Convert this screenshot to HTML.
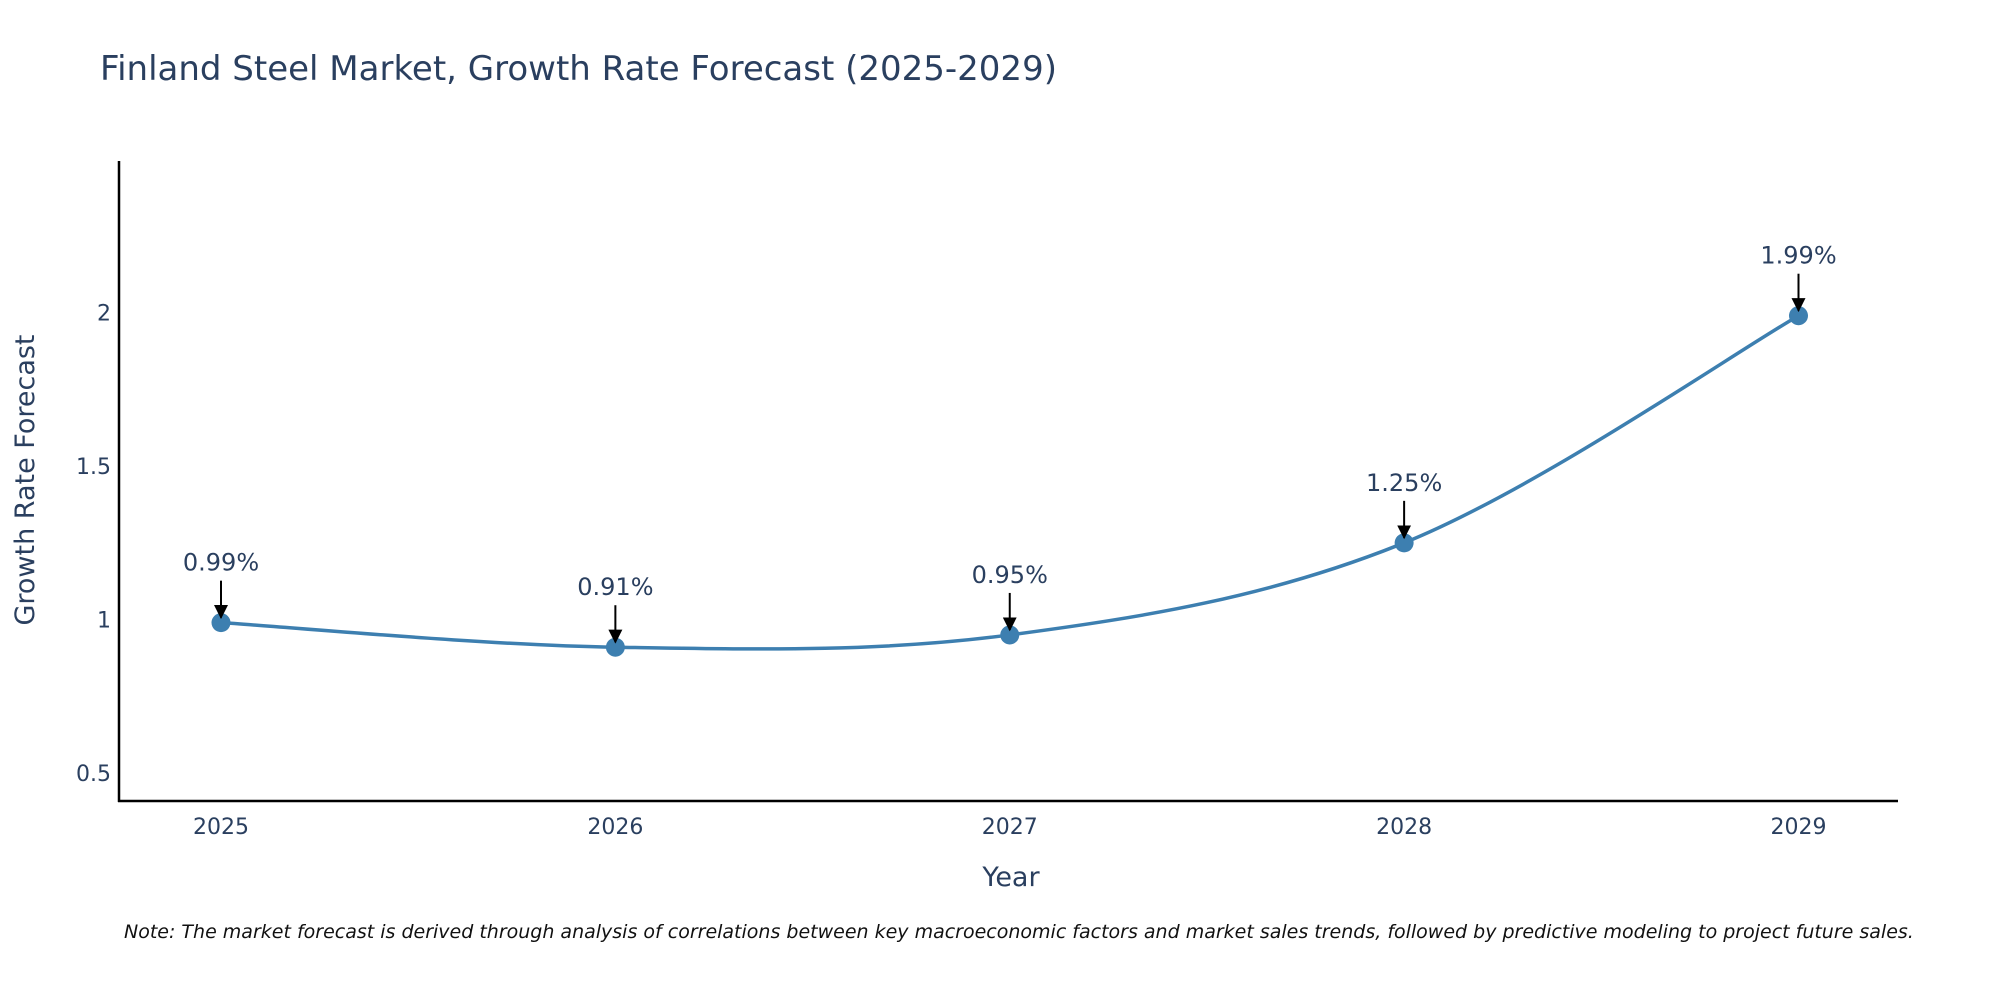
<!DOCTYPE html>
<html><head><meta charset="utf-8"><style>
body{margin:0;background:#fff;}
svg{display:block;font-family:"DejaVu Sans","Liberation Sans",sans-serif;}
</style></head><body>
<svg id="chart" width="2000" height="1000">
<defs><marker id="arr" viewBox="0 0 10 10" refX="9" refY="5" markerWidth="7" markerHeight="7" markerUnits="strokeWidth" orient="auto"><path d="M0,0 L10,5 L0,10 z" fill="#000"/></marker></defs>
<text x="100" y="80" font-size="34" fill="#2a3f5f">Finland Steel Market, Growth Rate Forecast (2025-2029)</text>
<g id="axes"></g>
<g id="series"></g>
<text x="1011" y="886" font-size="27" fill="#2a3f5f" text-anchor="middle">Year</text>
<text transform="translate(34,480) rotate(-90)" font-size="27" fill="#2a3f5f" text-anchor="middle">Growth Rate Forecast</text>
<text x="124" y="938" font-size="19" font-style="italic" fill="#111">Note: The market forecast is derived through analysis of correlations between key macroeconomic factors and market sales trends, followed by predictive modeling to project future sales.</text>
</svg>
<script>
const categories=["2025","2026","2027","2028","2029"];
const values=[0.99,0.91,0.95,1.25,1.99];
const yTicks=[0.5,1,1.5,2];
const L=119,R=1898,T=161,B=801,yMin=0.409,yMax=2.494;
const x0=221,x1=1798.5;
const NS="http://www.w3.org/2000/svg";
const xs=i=>x0+(x1-x0)*i/(categories.length-1);
const ys=v=>B-(v-yMin)/(yMax-yMin)*(B-T);
function mk(t,a,p){const e=document.createElementNS(NS,t);for(const k in a)e.setAttribute(k,a[k]);p.appendChild(e);return e;}
const ax=document.getElementById('axes'),se=document.getElementById('series');
let e=mk('line',{x1:L,y1:T,x2:L,y2:B+1,stroke:'#000','stroke-width':2.5},ax);


e=mk('line',{x1:L-1,y1:B,x2:R,y2:B,stroke:'#000','stroke-width':2.5},ax);


yTicks.forEach(v=>{const t=mk('text',{x:L-8,y:ys(v)+8,'font-size':22,fill:'#2a3f5f','text-anchor':'end'},ax);t.textContent=v;

});
categories.forEach((c,i)=>{const t=mk('text',{x:xs(i),y:834,'font-size':22,fill:'#2a3f5f','text-anchor':'middle'},ax);t.textContent=c;

});
const P=values.map((v,i)=>[xs(i),ys(v)]);
let d='M'+P[0][0]+','+P[0][1];
const s=0.17;
for(let i=0;i<P.length-1;i++){const p0=P[Math.max(0,i-1)],p1=P[i],p2=P[i+1],p3=P[Math.min(P.length-1,i+2)];
d+=` C${p1[0]+(p2[0]-p0[0])*s},${p1[1]+(p2[1]-p0[1])*s} ${p2[0]-(p3[0]-p1[0])*s},${p2[1]-(p3[1]-p1[1])*s} ${p2[0]},${p2[1]}`;}
e=mk('path',{d:d,fill:'none',stroke:'#3d7fb0','stroke-width':3.5},se);


values.forEach((v,i)=>{const c=mk('circle',{cx:xs(i),cy:ys(v),r:9.5,fill:'#3d7fb0'},se);


const a=mk('line',{x1:xs(i),y1:ys(v)-42,x2:xs(i),y2:ys(v)-5,stroke:'#000','stroke-width':2,'marker-end':'url(#arr)'},se);


const t=mk('text',{x:xs(i),y:ys(v)-52,'font-size':24,fill:'#2a3f5f','text-anchor':'middle'},se);t.textContent=v.toFixed(2)+'%';

});
</script>
</body></html>
